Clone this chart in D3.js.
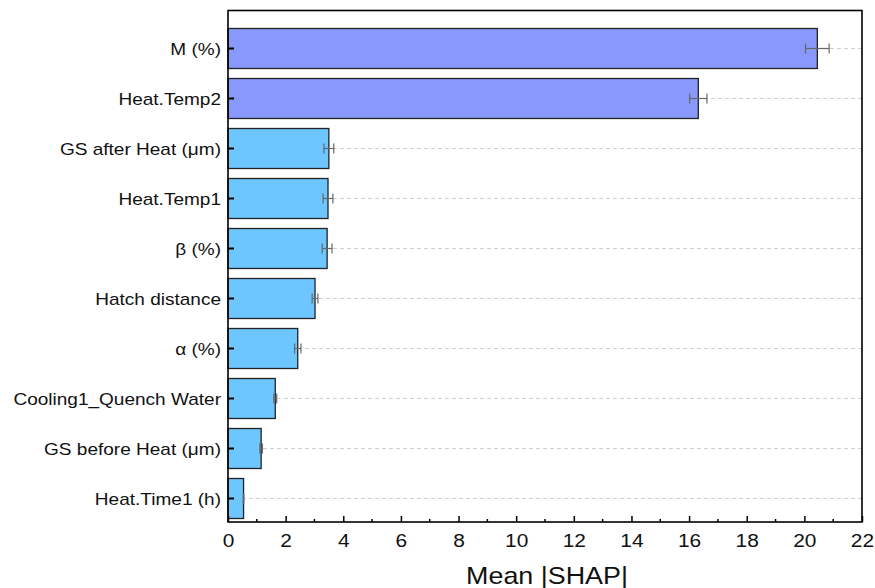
<!DOCTYPE html>
<html>
<head>
<meta charset="utf-8">
<script src="https://cdn.jsdelivr.net/npm/d3@7"></script>
<style>
  body { margin: 0; background: #fff; }
  text { font-family: "Liberation Sans", Arial, sans-serif; fill: #111; }
</style>
</head>
<body>
<svg id="chart" width="875" height="588"></svg>
<script>
// Features, top to bottom
let features = ["M (%)", "Heat.Temp2", "GS after Heat (μm)", "Heat.Temp1", "β (%)",
    "Hatch distance", "α (%)", "Cooling1_Quench Water", "GS before Heat (μm)", "Heat.Time1 (h)"];
// Mean |SHAP| and its error
let meanShap = [20.45, 16.32, 3.50, 3.47, 3.44, 3.02, 2.42, 1.64, 1.15, 0.54];
let shapErr = [0.41, 0.30, 0.17, 0.17, 0.17, 0.10, 0.11, 0.05, 0.045, 0.01];
// first two features get the highlighted colour
let topGroup = ["M (%)", "Heat.Temp2"];
let xTicks = d3.range(0, 23, 2);

let svg = d3.select("#chart");

let plotLeft = 228, plotRight = 862, plotTop = 10.5, plotBottom = 522;

let x = d3.scaleLinear().domain([0, 22]).range([plotLeft, plotRight]);
let y = d3.scaleBand().domain(features).range([23.5, 523.5]).paddingInner(0.2).paddingOuter(0.1);

let rows = features.map(function (f, i) {
    return {name: f, value: meanShap[i], err: shapErr[i]};
});

// dashed guide lines at each row
svg.append("g")
    .selectAll("line")
    .data(rows)
    .enter()
    .append("line")
    .attr("x1", plotLeft)
    .attr("x2", plotRight)
    .attr("y1", d => y(d.name) + y.bandwidth() / 2)
    .attr("y2", d => y(d.name) + y.bandwidth() / 2)
    .attr("stroke", "#d0d0d0")
    .attr("stroke-width", 1)
    .attr("stroke-dasharray", "4,3");

// bars
svg.append("g")
    .selectAll("rect")
    .data(rows)
    .enter()
    .append("rect")
    .attr("x", x(0))
    .attr("y", d => y(d.name))
    .attr("width", d => x(d.value) - x(0))
    .attr("height", y.bandwidth())
    .attr("fill", d => topGroup.includes(d.name) ? "#8999fb" : "#6ec6fe")
    .attr("stroke", "#222")
    .attr("stroke-width", 1.3);

// error bars
let errG = svg.append("g")
    .attr("stroke", "#666")
    .attr("stroke-width", 1.2);

rows.forEach(function (d) {
    let cy = y(d.name) + y.bandwidth() / 2;
    let x0 = x(d.value - d.err), x1 = x(d.value + d.err);
    errG.append("line").attr("x1", x0).attr("x2", x1).attr("y1", cy).attr("y2", cy);
    errG.append("line").attr("x1", x0).attr("x2", x0).attr("y1", cy - 5).attr("y2", cy + 5);
    errG.append("line").attr("x1", x1).attr("x2", x1).attr("y1", cy - 5).attr("y2", cy + 5);
});

// x axis (ticks point inward)
let xAxis = svg.append("g")
    .attr("transform", "translate(0," + plotBottom + ")")
    .call(d3.axisBottom(x).tickValues(xTicks).tickSizeInner(-6).tickSizeOuter(0).tickFormat(d3.format("d")));
xAxis.select(".domain").remove();
xAxis.selectAll(".tick line").attr("stroke", "#000").attr("stroke-width", 1.5);
xAxis.selectAll(".tick text")
    .attr("y", 0)
    .attr("dy", 0)
    .attr("transform", "translate(0,25) scale(1.1,1)")
    .attr("font-size", 19)
    .attr("fill", "#111");

// minor ticks
svg.append("g")
    .selectAll("line")
    .data(d3.range(1, 22, 2))
    .enter()
    .append("line")
    .attr("x1", d => x(d))
    .attr("x2", d => x(d))
    .attr("y1", plotBottom)
    .attr("y2", plotBottom - 3)
    .attr("stroke", "#000")
    .attr("stroke-width", 1.5);

// y axis
let yAxis = svg.append("g")
    .attr("transform", "translate(" + plotLeft + ",0)")
    .call(d3.axisLeft(y).tickSizeInner(-6).tickSizeOuter(0));
yAxis.select(".domain").remove();
yAxis.selectAll(".tick line").attr("stroke", "#000").attr("stroke-width", 2);
yAxis.selectAll(".tick text")
    .attr("x", 0)
    .attr("dy", "0.38em")
    .attr("transform", "translate(-7,0) scale(1.12,1)")
    .attr("font-size", 17)
    .attr("fill", "#111");

// frame
svg.append("rect")
    .attr("x", plotLeft)
    .attr("y", plotTop)
    .attr("width", plotRight - plotLeft)
    .attr("height", plotBottom - plotTop)
    .attr("fill", "none")
    .attr("stroke", "#000")
    .attr("stroke-width", 1.6);

// axis title
svg.append("text")
    .attr("text-anchor", "middle")
    .attr("font-size", 24)
    .attr("transform", "translate(547,584) scale(1.12,1)")
    .text("Mean |SHAP|");
</script>
</body>
</html>
